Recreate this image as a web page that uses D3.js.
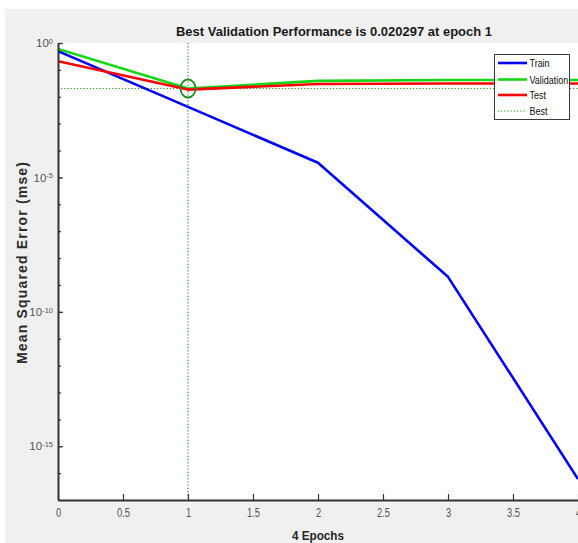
<!DOCTYPE html>
<html>
<head>
<meta charset="utf-8">
<script src="https://cdn.jsdelivr.net/npm/d3@7/dist/d3.min.js"></script>
<style>
  html, body { margin: 0; padding: 0; background: #ffffff; }
  svg { display: block; }
  text { font-family: "Liberation Sans", Arial, sans-serif; }
</style>
</head>
<body>
<svg id="chart" width="578" height="543"></svg>
<script>
// ---- data ----
const epochs = [0, 1, 2, 3, 4];
const train = [0.5, 4.2e-3, 3.5e-5, 2.0e-9, 6.0e-17];
const validation = [0.6, 0.020297, 0.039, 0.042, 0.042];
const test = [0.21, 0.0185, 0.030, 0.031, 0.031];
const bestEpoch = 1;
const bestValue = 0.020297;
const xTicks = [0, 0.5, 1, 1.5, 2, 2.5, 3, 3.5, 4];
const yMinorTicks = d3.range(0, -18, -1).map(e => Math.pow(10, e));
const yMajorExps = [0, -5, -10, -15];
const legendLabels = ["Train", "Validation", "Test", "Best"];
const titleText = "Best Validation Performance is 0.020297 at epoch 1";
const xLabel = "4 Epochs";
const yLabel = "Mean Squared Error  (mse)";

// ---- layout ----
const svg = d3.select("#chart");
const L = 58, R = 578, T = 43, B = 500;

function condense(sel, f) {
  sel.each(function() {
    const len = this.getComputedTextLength();
    d3.select(this).attr("textLength", len * f).attr("lengthAdjust", "spacingAndGlyphs");
  });
}

svg.append("rect").attr("x", 5).attr("y", 9).attr("width", 573).attr("height", 534).attr("fill", "#f0f0f0");
svg.append("rect").attr("x", L).attr("y", T).attr("width", R - L).attr("height", B - T).attr("fill", "#ffffff");

const x = d3.scaleLinear().domain([0, 4]).range([L, R]);
const y = d3.scaleLog().domain([1e-17, 1]).range([B, T]);

svg.append("defs").append("clipPath").attr("id", "clip")
  .append("rect").attr("x", L).attr("y", T - 2).attr("width", R - L).attr("height", B - T + 2);

const plot = svg.append("g").attr("clip-path", "url(#clip)");

// best markers (dotted)
const bestColor = "#1f9a1f";
plot.append("line")
  .attr("x1", x(bestEpoch)).attr("x2", x(bestEpoch))
  .attr("y1", T).attr("y2", B)
  .attr("stroke", bestColor).attr("stroke-width", 1.2).attr("stroke-dasharray", "1.2,2");
plot.append("line")
  .attr("x1", L).attr("x2", R)
  .attr("y1", y(bestValue)).attr("y2", y(bestValue))
  .attr("stroke", bestColor).attr("stroke-width", 1.2).attr("stroke-dasharray", "1.2,2");

const line = d3.line().x((d, i) => x(epochs[i])).y(d => y(d));
const series = [
  { vals: train, color: "#0000ff" },
  { vals: validation, color: "#14d814" },
  { vals: test, color: "#ff0000" }
];
series.forEach(s => {
  plot.append("path").datum(s.vals)
    .attr("d", line)
    .attr("fill", "none")
    .attr("stroke", s.color)
    .attr("stroke-width", 2.6)
    .attr("stroke-linejoin", "round");
});

// best circle
plot.append("ellipse")
  .attr("cx", x(bestEpoch)).attr("cy", y(bestValue))
  .attr("rx", 7.5).attr("ry", 9)
  .attr("fill", "none").attr("stroke", "#1c8c1c").attr("stroke-width", 1.8);

// ---- axes ----
const axisColor = "#333333";
const labelColor = "#555555";

const xAxis = svg.append("g").attr("transform", `translate(0,${B})`)
  .call(d3.axisBottom(x).tickValues(xTicks).tickSizeInner(-6).tickSizeOuter(0).tickPadding(8)
    .tickFormat(d => String(d)));
xAxis.select(".domain").attr("stroke", axisColor).attr("stroke-width", 2);
xAxis.selectAll(".tick line").attr("stroke", axisColor).attr("stroke-width", 1.2);
xAxis.selectAll(".tick text").attr("fill", labelColor).attr("font-size", 12)
  .attr("font-family", "'Liberation Sans', Arial, sans-serif");
condense(xAxis.selectAll(".tick text"), 0.78);

const yMinor = svg.append("g").attr("transform", `translate(${L},0)`)
  .call(d3.axisLeft(y).tickValues(yMinorTicks).tickSizeInner(-3).tickSizeOuter(0).tickFormat(""));
yMinor.select(".domain").attr("stroke", axisColor).attr("stroke-width", 2);
yMinor.selectAll(".tick line").attr("stroke", axisColor).attr("stroke-width", 1.2);

const yMajor = svg.append("g").attr("transform", `translate(${L},0)`)
  .call(d3.axisLeft(y).tickValues(yMajorExps.map(e => Math.pow(10, e))).tickSizeInner(-5).tickSizeOuter(0).tickPadding(5).tickFormat(""));
yMajor.select(".domain").remove();
yMajor.selectAll(".tick line").attr("stroke", axisColor).attr("stroke-width", 1.2);
yMajor.selectAll(".tick text").each(function(d, i) {
  const t = d3.select(this);
  t.text(null).attr("fill", labelColor).attr("font-size", 11.5)
    .attr("font-family", "'Liberation Sans', Arial, sans-serif");
  t.append("tspan").text("10");
  t.append("tspan").attr("dy", "-0.45em").attr("font-size", 7.5).text(String(yMajorExps[i]));
});

// ---- texts ----
svg.append("text")
  .attr("x", 334).attr("y", 36)
  .attr("text-anchor", "middle")
  .attr("font-weight", "bold").attr("font-size", 13).attr("fill", "#1a1a1a")
  .attr("textLength", 316).attr("lengthAdjust", "spacingAndGlyphs")
  .text(titleText);

svg.append("text")
  .attr("x", 318).attr("y", 540)
  .attr("text-anchor", "middle")
  .attr("font-weight", "bold").attr("font-size", 13).attr("fill", "#262626")
  .attr("textLength", 52).attr("lengthAdjust", "spacingAndGlyphs")
  .text(xLabel);

svg.append("text")
  .attr("transform", "translate(27,263) rotate(-90)")
  .attr("text-anchor", "middle")
  .attr("font-weight", "bold").attr("font-size", 14).attr("fill", "#2b2b2b")
  .attr("textLength", 202).attr("lengthAdjust", "spacing")
  .text(yLabel);

// ---- legend ----
const lg = svg.append("g");
lg.append("rect").attr("x", 494.5).attr("y", 54.5).attr("width", 75).attr("height", 65)
  .attr("fill", "#ffffff").attr("stroke", "#3a3a3a").attr("stroke-width", 1);
const legendStyles = [
  { color: "#0000ff", dash: null, w: 2.6 },
  { color: "#14d814", dash: null, w: 2.6 },
  { color: "#ff0000", dash: null, w: 2.6 },
  { color: bestColor, dash: "1.2,2", w: 1.2 }
];
const legendY = [63, 79.5, 95, 111];
legendLabels.forEach((lab, i) => {
  const ly = legendY[i];
  const st = legendStyles[i];
  lg.append("line").attr("x1", 498).attr("x2", 527).attr("y1", ly).attr("y2", ly)
    .attr("stroke", st.color).attr("stroke-width", st.w)
    .attr("stroke-dasharray", st.dash);
  const t = lg.append("text").attr("x", 529.5).attr("y", ly + 4)
    .attr("font-size", 11.5).attr("fill", "#111")
    .text(lab);
  condense(t, 0.78);
});
</script>
</body>
</html>
